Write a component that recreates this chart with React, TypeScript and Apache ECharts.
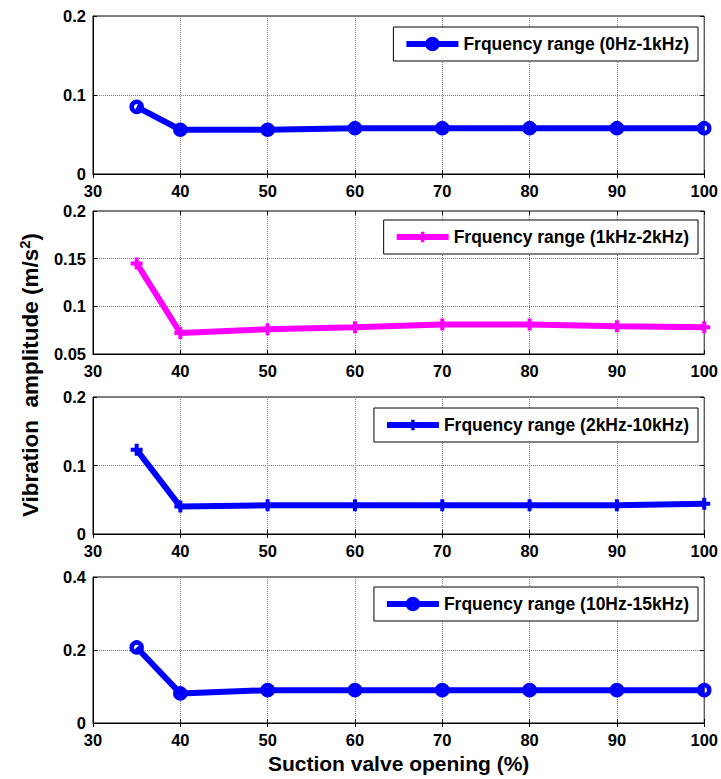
import React, { useEffect, useRef } from 'react';
import * as echarts from 'echarts';

// ---- data ----
const valveOpenings = [35, 40, 50, 60, 70, 80, 90, 100];
const band0to1k = [0.085, 0.056, 0.056, 0.058, 0.058, 0.058, 0.058, 0.058];
const band1kto2k = [0.145, 0.072, 0.076, 0.078, 0.081, 0.081, 0.079, 0.078];
const band2kto10k = [0.123, 0.04, 0.042, 0.042, 0.042, 0.042, 0.042, 0.044];
const band10to15k = [0.207, 0.081, 0.09, 0.09, 0.09, 0.09, 0.09, 0.09];
const seriesNames = [
  'Frquency range (0Hz-1kHz)',
  'Frquency range (1kHz-2kHz)',
  'Frquency range (2kHz-10kHz)',
  'Frquency range (10Hz-15kHz)',
];
const xMin = 30;
const xMax = 100;
const xInterval = 10;
const yMins = [0, 0.05, 0, 0];
const yMaxs = [0.2, 0.2, 0.2, 0.4];
const yIntervals = [0.1, 0.05, 0.1, 0.2];
const xTitle = 'Suction valve opening (%)';

// ---- layout / style ----
const FONT = '"Liberation Sans", Arial, Helvetica, sans-serif';
const gridTops = [16, 211, 397, 577];
const gridHeights = [158, 143, 137, 146];
const legendTops = [27, 220, 408, 587];
const colors = ['#0000ff', '#ff00ff', '#0000ff', '#0000ff'];
const PLUS = 'path://M4,0H8V4H12V8H8V12H4V8H0V4H4Z';
const markers = ['circle', PLUS, PLUS, 'circle'];

function buildOption() {
  const allSeries = [band0to1k, band1kto2k, band2kto10k, band10to15k];
  const grid: any[] = [];
  const xAxis: any[] = [];
  const yAxis: any[] = [];
  const series: any[] = [];
  const legend: any[] = [];

  for (let i = 0; i < 4; i++) {
    grid.push({
      left: 93,
      width: 612,
      top: gridTops[i],
      height: gridHeights[i],
      show: true,
      borderColor: '#000',
      borderWidth: 1,
      backgroundColor: '#fff',
      containLabel: false,
    });
    const isLast = i === 3;
    xAxis.push({
      type: 'value',
      gridIndex: i,
      position: 'bottom',
      min: xMin,
      max: xMax,
      interval: xInterval,
      axisLine: { show: true, onZero: false, lineStyle: { color: '#000', width: 1 } },
      axisTick: { show: true, inside: true, length: 4, lineStyle: { color: '#000' } },
      axisLabel: {
        show: true,
        margin: 8,
        color: '#000',
        fontFamily: FONT,
        fontWeight: 'bold',
        fontSize: 16.5,
      },
      splitLine: { show: true, lineStyle: { color: '#7a7a7a', type: 'dotted', width: 1 } },
      name: isLast ? xTitle : '',
      nameLocation: 'middle',
      nameGap: 30,
      nameTextStyle: { color: '#000', fontFamily: FONT, fontWeight: 'bold', fontSize: 21 },
    });
    xAxis.push({
      type: 'value',
      gridIndex: i,
      position: 'top',
      min: xMin,
      max: xMax,
      interval: xInterval,
      axisLine: { show: false },
      axisTick: { show: true, inside: true, length: 4, lineStyle: { color: '#000' } },
      axisLabel: { show: false },
      splitLine: { show: false },
    });
    yAxis.push({
      type: 'value',
      gridIndex: i,
      position: 'left',
      min: yMins[i],
      max: yMaxs[i],
      interval: yIntervals[i],
      axisLine: { show: true, onZero: false, lineStyle: { color: '#000', width: 1 } },
      axisTick: { show: true, inside: true, length: 4, lineStyle: { color: '#000' } },
      axisLabel: {
        show: true,
        margin: 7,
        color: '#000',
        fontFamily: FONT,
        fontWeight: 'bold',
        fontSize: 16.5,
      },
      splitLine: { show: true, lineStyle: { color: '#7a7a7a', type: 'dotted', width: 1 } },
    });
    yAxis.push({
      type: 'value',
      gridIndex: i,
      position: 'right',
      min: yMins[i],
      max: yMaxs[i],
      interval: yIntervals[i],
      axisLine: { show: false },
      axisTick: { show: true, inside: true, length: 4, lineStyle: { color: '#000' } },
      axisLabel: { show: false },
      splitLine: { show: false },
    });

    const isCircle = markers[i] === 'circle';
    series.push({
      type: 'line',
      name: seriesNames[i],
      xAxisIndex: i * 2,
      yAxisIndex: i * 2,
      data: valveOpenings.map((x, k) => [x, allSeries[i][k]]),
      symbol: markers[i],
      symbolSize: isCircle ? 10 : 12,
      showAllSymbol: true,
      lineStyle: { color: colors[i], width: 6 },
      itemStyle: isCircle
        ? { color: 'rgba(0,0,0,0)', borderColor: colors[i], borderWidth: 4.5 }
        : { color: colors[i], borderWidth: 0 },
      emphasis: { disabled: true },
      z: 3,
    });

    legend.push({
      show: true,
      data: [seriesNames[i]],
      right: 23,
      top: legendTops[i],
      orient: 'horizontal',
      backgroundColor: '#fff',
      borderColor: '#000',
      borderWidth: 1,
      borderRadius: 0,
      padding: [8, 9, 8, 10],
      itemWidth: 52,
      itemHeight: 13,
      selectedMode: false,
      textStyle: { color: '#000', fontFamily: FONT, fontWeight: 'bold', fontSize: 17.5 },
      lineStyle: { width: 6 },
      itemStyle: isCircle
        ? { borderWidth: 4, borderColor: colors[i], color: 'rgba(0,0,0,0)' }
        : { borderWidth: 0, color: colors[i] },
    });
  }

  return {
    animation: false,
    backgroundColor: '#fff',
    textStyle: { fontFamily: FONT },
    grid,
    xAxis,
    yAxis,
    series,
    legend,
    graphic: [
      {
        type: 'text',
        x: 30,
        y: 375,
        rotation: Math.PI / 2,
        style: {
          text: '{a|Vibration  amplitude (m/s}{s|2}{a|)}',
          align: 'center',
          verticalAlign: 'middle',
          fill: '#000',
          rich: {
            a: { fontFamily: FONT, fontWeight: 'bold', fontSize: 22.5, fill: '#000', lineHeight: 26 },
            s: {
              fontFamily: FONT,
              fontWeight: 'bold',
              fontSize: 15,
              fill: '#000',
              verticalAlign: 'top',
              lineHeight: 26,
              padding: [0, 0, 10, 0],
            },
          },
        },
      },
    ],
  };
}

export default function App() {
  const ref = useRef<HTMLDivElement>(null);
  useEffect(() => {
    if (!ref.current) return;
    const chart = echarts.init(ref.current, null, { renderer: 'svg' });
    chart.setOption(buildOption() as any);
    return () => chart.dispose();
  }, []);
  return (
    <div
      ref={ref}
      style={{ position: 'absolute', left: 0, top: 0, width: 721, height: 779, background: '#fff' }}
    />
  );
}
